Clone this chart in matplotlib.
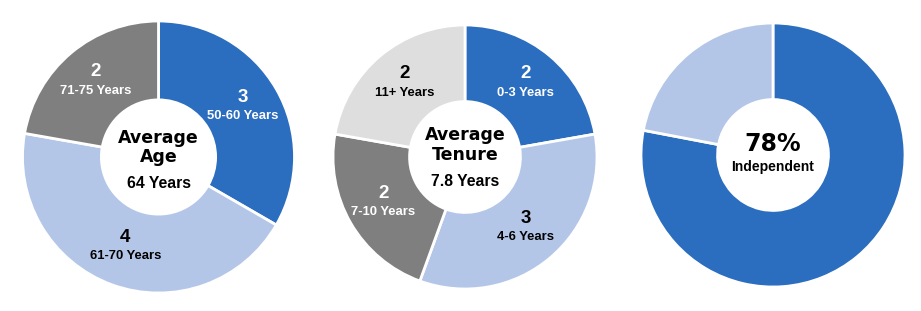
import matplotlib
matplotlib.use("Agg")
import matplotlib.pyplot as plt
import numpy as np

# Data
age_values = [3, 4, 2]
age_counts = ["3", "4", "2"]
age_labels = ["50-60 Years", "61-70 Years", "71-75 Years"]
age_center = ["Average", "Age", "64 Years"]

tenure_values = [2, 3, 2, 2]
tenure_counts = ["2", "3", "2", "2"]
tenure_labels = ["0-3 Years", "4-6 Years", "7-10 Years", "11+ Years"]
tenure_center = ["Average", "Tenure", "7.8 Years"]

indep_values = [78, 22]
indep_center = ["78%", "Independent"]

BLUE = "#2B6DBE"
LIGHT = "#B4C6E8"
GRAY = "#7F7F7F"
LGRAY = "#DEDEDE"

age_colors = [BLUE, LIGHT, GRAY]
age_txt = ["white", "black", "white"]
tenure_colors = [BLUE, LIGHT, GRAY, LGRAY]
tenure_txt = ["white", "black", "white", "black"]
indep_colors = [BLUE, LIGHT]

NARROW = ["Liberation Sans Narrow", "Liberation Sans", "DejaVu Sans"]
WIDE = ["DejaVu Sans"]

W, H = 921, 311
fig = plt.figure(figsize=(W / 100, H / 100), dpi=100)

HOLE = 0.42


def make_ax(cx, cy, r):
    ax = fig.add_axes([(cx - r) / W, (H - cy - r) / H, 2 * r / W, 2 * r / H])
    return ax


def donut(ax, values, colors):
    wedges, _ = ax.pie(values, colors=colors, startangle=90, counterclock=False,
                       radius=1.0,
                       wedgeprops=dict(width=1 - HOLE, edgecolor="white", linewidth=2))
    ax.set_xlim(-1, 1)
    ax.set_ylim(-1, 1)
    ax.set_aspect("equal")
    ax.axis("off")
    return wedges


def seg_labels(ax, values, counts, labels, txtcols, r):
    total = sum(values)
    start = 0.0
    for v, c, l, tc in zip(values, counts, labels, txtcols):
        mid = (start + v / 2) / total * 2 * np.pi
        start += v
        x = 0.715 * np.sin(mid)
        y = 0.715 * np.cos(mid)
        ax.text(x, y + 11 / r, c, ha="center", va="center", fontsize=13.5,
                fontweight="bold", color=tc, family=NARROW)
        ax.text(x, y - 8 / r, l, ha="center", va="center", fontsize=9.4,
                fontweight="bold", color=tc, family=NARROW)


# Chart 1
r1 = 136
ax1 = make_ax(158.5, 157, r1)
donut(ax1, age_values, age_colors)
seg_labels(ax1, age_values, age_counts, age_labels, age_txt, r1)
ax1.text(0, 19 / r1, age_center[0], ha="center", va="center", fontsize=12.5,
         fontweight="bold", family=WIDE)
ax1.text(0, 0, age_center[1], ha="center", va="center", fontsize=12.5,
         fontweight="bold", family=WIDE)
ax1.text(0, -26 / r1, age_center[2], ha="center", va="center", fontsize=11.3,
         fontweight="bold", family=NARROW)

# Chart 2
r2 = 132
ax2 = make_ax(465, 157, r2)
donut(ax2, tenure_values, tenure_colors)
seg_labels(ax2, tenure_values, tenure_counts, tenure_labels, tenure_txt, r2)
ax2.text(0, 22 / r2, tenure_center[0], ha="center", va="center", fontsize=12.5,
         fontweight="bold", family=WIDE)
ax2.text(0, 2 / r2, tenure_center[1], ha="center", va="center", fontsize=12.5,
         fontweight="bold", family=WIDE)
ax2.text(0, -25 / r2, tenure_center[2], ha="center", va="center", fontsize=11.3,
         fontweight="bold", family=NARROW)

# Chart 3
r3 = 132
ax3 = make_ax(773, 155, r3)
donut(ax3, indep_values, indep_colors)
ax3.text(0, 11 / r3, indep_center[0], ha="center", va="center", fontsize=17,
         fontweight="bold", family=WIDE)
ax3.text(0, -12 / r3, indep_center[1], ha="center", va="center", fontsize=10,
         fontweight="bold", family=NARROW)

fig.savefig("out.png", dpi=100, facecolor="white")
